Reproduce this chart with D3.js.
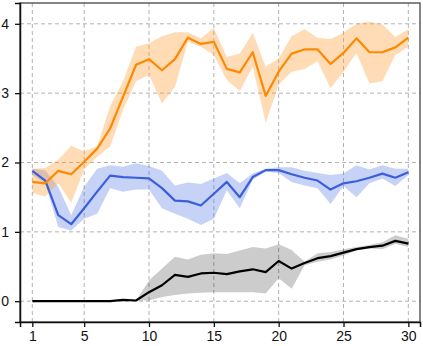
<html>
<head>
<style>
  body { margin: 0; background: #fff; }
  text { font-family: "Liberation Sans", Arial, sans-serif; }
</style>
</head>
<body>
<svg id="svg" width="423" height="346"></svg>
<script src="https://d3js.org/d3.v7.min.js"></script>
<script>

// x positions 1..30
var steps = d3.range(1, 31);

var orangeMean = [1.72,1.70,1.88,1.83,2.01,2.20,2.49,2.95,3.41,3.49,
                  3.33,3.49,3.80,3.71,3.74,3.35,3.30,3.59,2.96,3.31,
                  3.57,3.63,3.63,3.42,3.58,3.79,3.59,3.59,3.66,3.80];
var orangeHi   = [1.91,1.92,2.04,2.24,2.16,2.23,2.81,3.17,3.67,3.72,
                  3.82,3.88,3.88,3.79,3.94,3.52,3.57,3.87,3.38,3.50,
                  3.82,3.92,3.80,3.78,3.87,4.00,4.03,3.99,3.81,3.92];
var orangeLo   = [1.56,1.51,1.70,1.42,1.90,2.08,2.23,2.76,3.17,3.26,
                  2.85,3.09,3.74,3.67,3.55,3.19,3.03,3.38,2.57,3.12,
                  3.31,3.35,3.46,3.07,3.31,3.58,3.14,3.17,3.55,3.67];

var blueMean = [1.88,1.74,1.24,1.11,1.34,1.58,1.81,1.79,1.78,1.77,
                1.63,1.45,1.44,1.38,1.55,1.72,1.50,1.79,1.89,1.89,
                1.83,1.78,1.74,1.61,1.70,1.73,1.78,1.84,1.78,1.86];
var blueHi   = [1.91,1.89,1.65,1.24,1.65,1.91,1.96,1.94,1.99,1.95,
                1.88,1.67,1.71,1.69,1.77,1.85,1.70,1.84,1.91,1.93,
                1.93,1.88,1.85,1.82,1.84,1.96,1.90,1.96,1.91,1.91];
var blueLo   = [1.82,1.70,1.07,1.02,1.19,1.26,1.63,1.58,1.61,1.61,
                1.34,1.26,1.19,1.10,1.19,1.60,1.34,1.75,1.87,1.85,
                1.72,1.67,1.63,1.40,1.66,1.50,1.70,1.77,1.66,1.82];

var blackMean = [0,0,0,0,0,0,0,0.02,0.01,0.13,
                 0.23,0.38,0.35,0.40,0.41,0.39,0.43,0.46,0.42,0.58,
                 0.47,0.55,0.62,0.65,0.70,0.75,0.78,0.80,0.87,0.83];
var blackHi   = [0,0,0,0,0,0,0,0.02,0.01,0.30,
                 0.47,0.64,0.60,0.67,0.69,0.68,0.73,0.78,0.76,0.82,
                 0.74,0.57,0.69,0.71,0.75,0.78,0.81,0.85,0.95,0.90];
var blackLo   = [0,0,0,0,0,0,0,0.02,0.01,0.01,
                 0.06,0.09,0.11,0.12,0.13,0.13,0.13,0.13,0.11,0.33,
                 0.18,0.52,0.57,0.60,0.66,0.73,0.76,0.75,0.83,0.78];

var xTicks = [1, 5, 10, 15, 20, 25, 30];
var yTicks = [0, 1, 2, 3, 4];

var L = 20, R = 420, T = 3, B = 322;
var x = d3.scaleLinear().domain([0.05, 30.9]).range([L, R]);
var y = d3.scaleLinear().domain([-0.3, 4.3]).range([B, T]);

var svg = d3.select("#svg");

// grid
svg.append("g").selectAll("line.gx").data(xTicks).join("line")
  .attr("x1", d => x(d)).attr("x2", d => x(d)).attr("y1", T).attr("y2", B)
  .style("stroke", "#b3b3b3").style("stroke-width", 1).style("stroke-dasharray", "4,3");
svg.append("g").selectAll("line.gy").data(yTicks).join("line")
  .attr("y1", d => y(d)).attr("y2", d => y(d)).attr("x1", L).attr("x2", R)
  .style("stroke", "#b3b3b3").style("stroke-width", 1).style("stroke-dasharray", "4,3");

var series = [
  { m: blackMean,  hi: blackHi,  lo: blackLo,  line: "#000000", band: "#000000", op: 0.2 },
  { m: blueMean,   hi: blueHi,   lo: blueLo,   line: "#3b5fdc", band: "#4169e1", op: 0.3 },
  { m: orangeMean, hi: orangeHi, lo: orangeLo, line: "#ff8800", band: "#ff9c2a", op: 0.35 }
];

var area = d3.area().x((d, i) => x(steps[i])).y0(d => y(d[0])).y1(d => y(d[1]));
var line = d3.line().x((d, i) => x(steps[i])).y(d => y(d));

series.forEach(s => {
  svg.append("path")
    .datum(s.lo.map((v, i) => [v, s.hi[i]]))
    .attr("d", area)
    .style("fill", s.band).style("fill-opacity", s.op).style("stroke", "none");
});
series.forEach(s => {
  svg.append("path")
    .datum(s.m)
    .attr("d", line)
    .style("fill", "none").style("stroke", s.line).style("stroke-width", 2.2)
    .style("stroke-linejoin", "round");
});

// frame
svg.append("rect").attr("x", L).attr("y", T).attr("width", R - L).attr("height", B - T)
  .style("fill", "none").style("stroke", "#444").style("stroke-width", 1.3);

// axes
var gx = svg.append("g").attr("transform", "translate(0," + B + ")")
  .call(d3.axisBottom(x).tickValues(xTicks).tickSize(5).tickPadding(4).tickFormat(d3.format("d")));
var gy = svg.append("g").attr("transform", "translate(" + L + ",0)")
  .call(d3.axisLeft(y).tickValues(yTicks).tickSize(5).tickPadding(6).tickFormat(d3.format("d")));

[gx, gy].forEach(g => {
  g.select(".domain").style("stroke", "#111").style("stroke-width", 1.5);
  g.selectAll(".tick line").style("stroke", "#111").style("stroke-width", 1.3);
  g.selectAll(".tick text").style("font-size", "14px").style("fill", "#111")
    .style("font-family", "'Liberation Sans', Arial, sans-serif");
});

</script>
</body>
</html>
